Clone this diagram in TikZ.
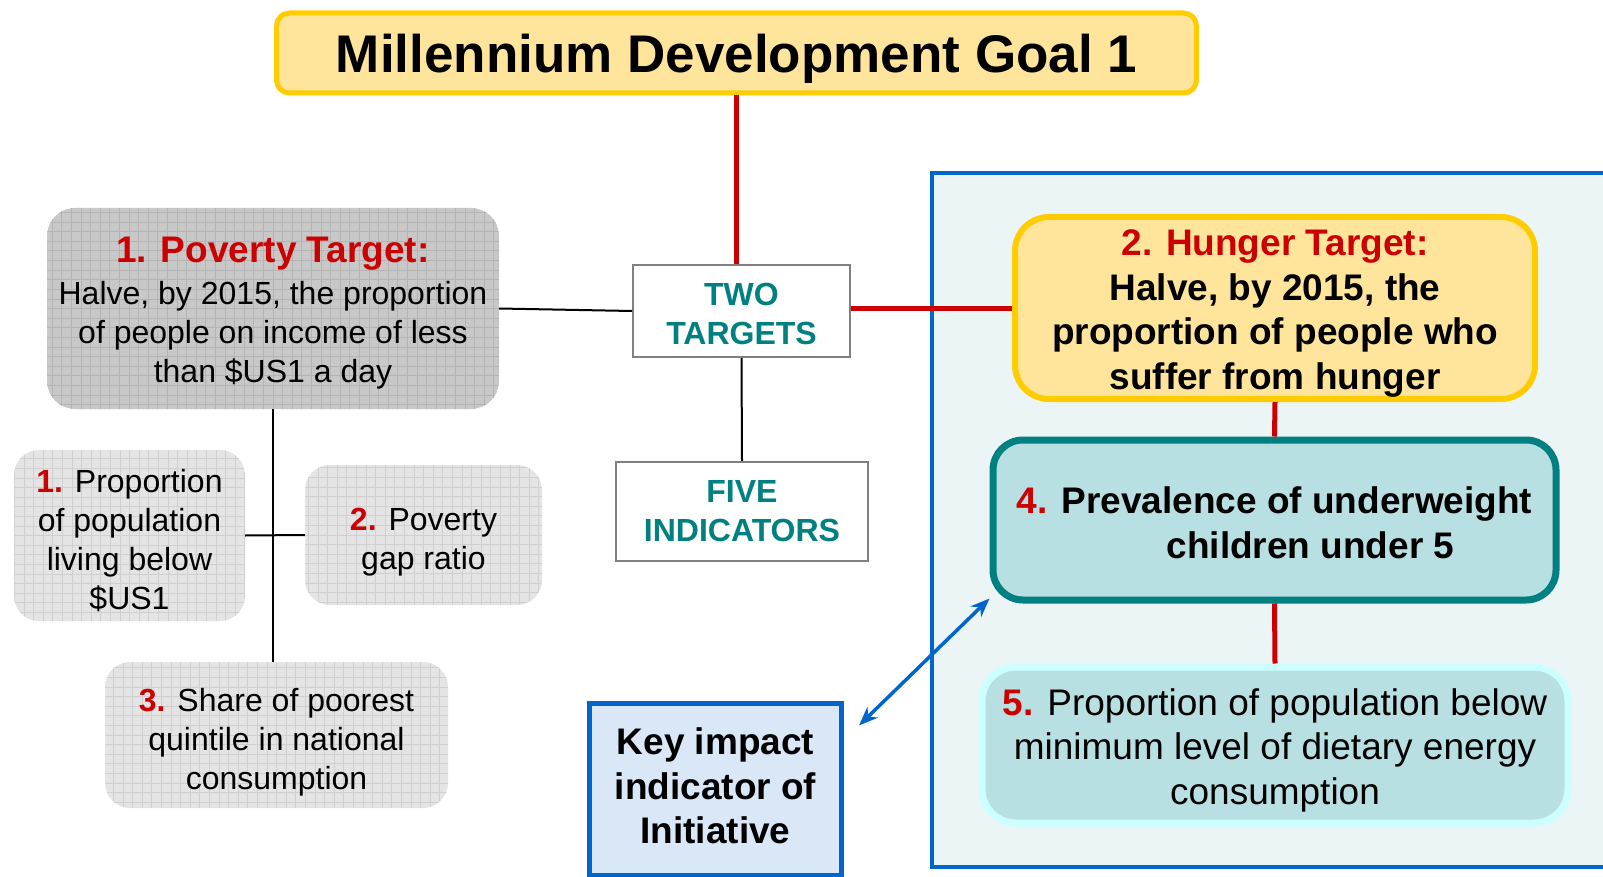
\documentclass[tikz,border=0pt]{standalone}
\usepackage{fontspec}
\setmainfont{Liberation Sans}
\usetikzlibrary{calc,arrows.meta}
\definecolor{mdred}{HTML}{CC0000}
\definecolor{mdyellow}{HTML}{FFCC00}
\definecolor{mdcream}{HTML}{FFE59B}
\definecolor{mdteal}{HTML}{008080}
\definecolor{mdaqua}{HTML}{B8DFE1}
\definecolor{mdcyan}{HTML}{CCFFFF}
\definecolor{mdblue}{HTML}{0066CC}
\definecolor{regionfill}{HTML}{ECF5F5}
\definecolor{keyfill}{HTML}{D9E7F6}
\definecolor{povfill}{HTML}{C8C8C8}
\definecolor{povgrid}{HTML}{B4B4B4}
\definecolor{indfill}{HTML}{E4E4E4}
\definecolor{indgrid}{HTML}{D0D0D0}
\definecolor{boxgray}{HTML}{808080}
\newcommand{\fsA}{\fontsize{32}{39}\selectfont}
\newcommand{\fsB}{\fontsize{37}{44.5}\selectfont}
\newcommand{\rednum}[1]{{\bfseries\color{mdred}#1}}
\begin{document}
\begin{tikzpicture}[x=1pt,y=-1pt,
  gridbox/.style 2 args={rounded corners=#2, draw=none, fill=#1fill, inner sep=0pt,
    path picture={\draw[#1grid, line width=0.8pt] (path picture bounding box.south west) grid[step=9.6pt] (path picture bounding box.north east);}},
  plainbox/.style={draw=boxgray, line width=2pt, fill=white, inner sep=0pt},
  txt/.style={inner sep=0pt, align=center},
  redline/.style={draw=mdred, line width=5pt},
  blackline/.style={draw=black, line width=2pt},
  keyarrow/.style={draw=mdblue, line width=3.5pt,
    {Stealth[length=19pt,width=15pt]}-{Stealth[length=19pt,width=15pt]}}
]
\useasboundingbox (0,0) rectangle (1603,877);

% shaded region on the right
\draw[draw=mdblue, line width=4.5pt, fill=regionfill] (932,173) rectangle (1630,867);

% title
\node[draw=mdyellow, line width=5pt, fill=mdcream, rounded corners=13pt,
  minimum width=920pt, minimum height=80pt, inner sep=0pt] (title) at (736.5,53) {};
\node[txt, font=\fontsize{53}{60}\selectfont\bfseries] (titletext) at ($(title.center)+(0,6)$)
  {Millennium Development Goal 1};

% hub boxes
\node[plainbox, minimum width=217pt, minimum height=92pt] (two) at (741.5,311) {};
\node[txt, font=\fsA\bfseries\color{mdteal}] (twotext) at ($(two.center)+(0,3)$) {TWO\\TARGETS};
\node[plainbox, minimum width=252pt, minimum height=99pt] (five) at (742,511.5) {};
\node[txt, font=\fsA\bfseries\color{mdteal}] (fivetext) at ($(five.center)+(0,0)$) {FIVE\\INDICATORS};

% poverty side
\node[gridbox={pov}{28pt}, minimum width=452pt, minimum height=201pt] (pov) at (273,308.5) {};
\node[txt, font=\fsA] (povtext) at ($(pov.center)+(0,4.5)$)
  {{\fontsize{37}{42}\selectfont\bfseries\color{mdred}1. Poverty Target:}\\[3pt]
   Halve, by 2015, the proportion\\ of people on income of less\\ than \$US1 a day};
\node[gridbox={ind}{25pt}, minimum width=231pt, minimum height=171pt] (b1) at (129.5,535.5) {};
\node[txt, font=\fsA] (b1text) at ($(b1.center)+(0,5)$)
  {\rednum{1.} Proportion\\ of population\\ living below\\ \$US1};
\node[gridbox={ind}{25pt}, minimum width=237pt, minimum height=140pt] (b2) at (423.5,535) {};
\node[txt, font=\fsA] (b2text) at ($(b2.center)+(0,7)$)
  {\rednum{2.} Poverty\\ gap ratio};
\node[gridbox={ind}{25pt}, minimum width=343pt, minimum height=146pt] (b3) at (276.5,735) {};
\node[txt, font=\fsA] (b3text) at ($(b3.center)+(0,7.5)$)
  {\rednum{3.} Share of poorest\\ quintile in national\\ consumption};

% hunger side
\node[draw=mdyellow, line width=6pt, fill=mdcream, rounded corners=34pt, inner sep=0pt,
  minimum width=520pt, minimum height=182pt] (hunger) at (1275,308) {};
\node[txt, font=\fsB\bfseries] (huntext) at ($(hunger.center)+(0,5.5)$)
  {{\color{mdred}2. Hunger Target:}\\ Halve, by 2015, the\\ proportion of people who\\ suffer from hunger};
\node[draw=mdteal, line width=7pt, fill=mdaqua, rounded corners=30pt, inner sep=0pt,
  minimum width=563pt, minimum height=160pt] (b4) at (1274.5,520) {};
\node[txt, font=\fsB\bfseries] (b4text) at ($(b4.center)+(0,3)$)
  {\rednum{4.} Prevalence of underweight\\ \hspace*{72pt}children under 5};
\node[draw=mdcyan, line width=7pt, fill=mdaqua, rounded corners=34pt, inner sep=0pt,
  minimum width=586pt, minimum height=156pt] (b5) at (1275,745) {};
\node[txt, font=\fsB] (b5text) at ($(b5.center)+(0,5)$)
  {\rednum{5.} Proportion of population below\\ minimum level of dietary energy\\ consumption};

% key impact box
\node[draw=mdblue, line width=5pt, fill=keyfill, inner sep=0pt,
  minimum width=252pt, minimum height=172pt] (key) at (715.5,789) {};
\node[txt, font=\fsB\bfseries] (keytext) at (key.center |- 0,786)
  {Key impact\\ indicator of\\ Initiative};

% connectors
\draw[redline] (title.south) -- (title.south |- two.north);
\draw[redline] (two.east |- hunger.west) -- (hunger.west);
\draw[redline] (hunger.south) -- (b4.north);
\draw[redline] (b4.south) -- (b5.north);
\draw[blackline] (pov.east) -- (two.west);
\draw[blackline] (two.south) -- (five.north);
\draw[blackline] (pov.south) -- (pov.south |- b3.north);
\draw[blackline] (b1.east) -- (b2.west);
\draw[keyarrow] ($(key.north east)+(15,25)$) -- ($(b4.south west)+(0,-5)$);
\end{tikzpicture}
\end{document}
